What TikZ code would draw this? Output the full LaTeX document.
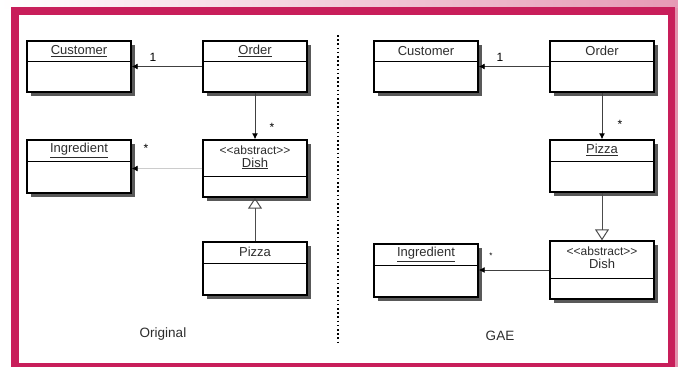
\documentclass[tikz,border=0pt]{standalone}
\usepackage{fontspec}
\setmainfont{Liberation Sans}
\usepackage{tikz}
\usetikzlibrary{calc,arrows.meta,shadows,positioning}
\definecolor{frame}{RGB}{200,30,90}
\definecolor{txt}{RGB}{45,45,45}
\tikzstyle{cls}=[draw,line width=1.4pt,fill=white,minimum width=104pt,inner sep=0pt,
  drop shadow={shadow xshift=3.5pt,shadow yshift=-3.5pt,fill=black!65,opacity=1}]
\tikzstyle{title}=[font=\fontsize{13}{14}\selectfont,text=txt,inner sep=0pt]
\tikzstyle{mult}=[font=\fontsize{12}{13}\selectfont,inner sep=0pt]
\tikzstyle{caption}=[font=\fontsize{13.5}{14}\selectfont,text=txt,inner sep=0pt]

\begin{document}
\begin{tikzpicture}[x=1pt,y=-1pt,
assoc/.style={draw,-{Latex[length=6pt,width=6pt,color=black]},line width=0.9pt,black!75},
inherit/.style={draw,-{Triangle[open,length=11pt,width=14pt,line width=1pt]},line width=0.9pt,black!70}]
% frame and background
\useasboundingbox (0,0) rectangle (678,367);
\shade[left color=white,right color=frame!45] (0,0) rectangle (678,8);
\fill[frame!50] (675,8) rectangle (678,367);
\fill[frame] (11,7) rectangle (675,367);
\fill[white] (19,15) rectangle (668,363);
\draw[line width=1.6pt,dash pattern=on 1.6pt off 2.6pt] (338,35) -- (338,343);

% left side: original
\node[cls,minimum height=51pt] (lcust) at (79,66.5) {};
\node[cls,minimum height=51pt] (lord) at (255,66.5) {};
\node[cls,minimum height=53pt] (ling) at (79,166.5) {};
\node[cls,minimum height=57pt] (ldish) at (255,168.5) {};
\node[cls,minimum height=53pt] (lpiz) at (255,268.5) {};
\draw[line width=1.4pt] ($(lcust.north west)+(0,21)$) -- ($(lcust.north east)+(0,21)$);
\draw[line width=1.4pt] ($(lord.north west)+(0,21)$) -- ($(lord.north east)+(0,21)$);
\draw[line width=1.4pt] ($(ling.north west)+(0,22)$) -- ($(ling.north east)+(0,22)$);
\draw[line width=1.4pt] ($(ldish.north west)+(0,37)$) -- ($(ldish.north east)+(0,37)$);
\draw[line width=1.4pt] ($(lpiz.north west)+(0,22)$) -- ($(lpiz.north east)+(0,22)$);
\node[title] (lcustt) at ($(lcust.north)+(0,10.5)$) {\underline{Customer}};
\node[title] (lordt) at ($(lord.north)+(0,10.5)$) {\underline{Order}};
\node[title] (lingt) at ($(ling.north)+(0,11)$) {\underline{Ingredient}};
\node[title] (ldisht) at ($(ldish.north)+(0,18.5)$) {\begin{tabular}{@{}c@{}}\fontsize{12}{12}\selectfont<{}<abstract>{}>\\[-1pt]\underline{Dish}\end{tabular}};
\node[title] (lpizt) at ($(lpiz.north)+(0,11)$) {Pizza};

\draw[assoc] (lord.west) -- (lcust.east);
\draw[assoc] (lord.south) -- (ldish.north);
\draw[assoc,black!20] (ldish.west) -- (ldish.west -| ling.east);
\draw[inherit] (lpiz.north) -- (ldish.south);
\node[mult] (lm1) at (153,57) {1};
\node[mult] (lm2) at (272,127) {*};
\node[mult] (lm3) at (146,148) {*};
\node[caption] (lcap) at (163,334) {Original};

% right side: GAE
\node[cls,minimum height=51pt] (rcust) at (426,66.5) {};
\node[cls,minimum height=51pt] (rord) at (602,66.5) {};
\node[cls,minimum height=52pt] (rpiz) at (602,166) {};
\node[cls,minimum height=58pt] (rdish) at (602,270) {};
\node[cls,minimum height=53pt] (ring) at (426,270.5) {};
\draw[line width=1.4pt] ($(rcust.north west)+(0,21)$) -- ($(rcust.north east)+(0,21)$);
\draw[line width=1.4pt] ($(rord.north west)+(0,21)$) -- ($(rord.north east)+(0,21)$);
\draw[line width=1.4pt] ($(rpiz.north west)+(0,22)$) -- ($(rpiz.north east)+(0,22)$);
\draw[line width=1.4pt] ($(rdish.north west)+(0,38)$) -- ($(rdish.north east)+(0,38)$);
\draw[line width=1.4pt] ($(ring.north west)+(0,22)$) -- ($(ring.north east)+(0,22)$);
\node[title] (rcustt) at ($(rcust.north)+(0,10.5)$) {Customer};
\node[title] (rordt) at ($(rord.north)+(0,10.5)$) {Order};
\node[title] (rpizt) at ($(rpiz.north)+(0,11)$) {\underline{Pizza}};
\node[title] (rdisht) at ($(rdish.north)+(0,19)$) {\begin{tabular}{@{}c@{}}\fontsize{12}{12}\selectfont<{}<abstract>{}>\\[-1pt]Dish\end{tabular}};
\node[title] (ringt) at ($(ring.north)+(0,11)$) {\underline{Ingredient}};

\draw[assoc] (rord.west) -- (rcust.east);
\draw[assoc] (rord.south) -- (rpiz.north);
\draw[inherit] (rpiz.south) -- (rdish.north);
\draw[assoc] (rdish.west) -- (rdish.west -| ring.east);
\node[mult] (rm1) at (500,57) {1};
\node[mult] (rm2) at (620,124) {*};
\node[mult,font=\fontsize{8}{9}\selectfont] (rm3) at (491,256) {*};
\node[caption] (rcap) at (500,336) {GAE};
\end{tikzpicture}
\end{document}
